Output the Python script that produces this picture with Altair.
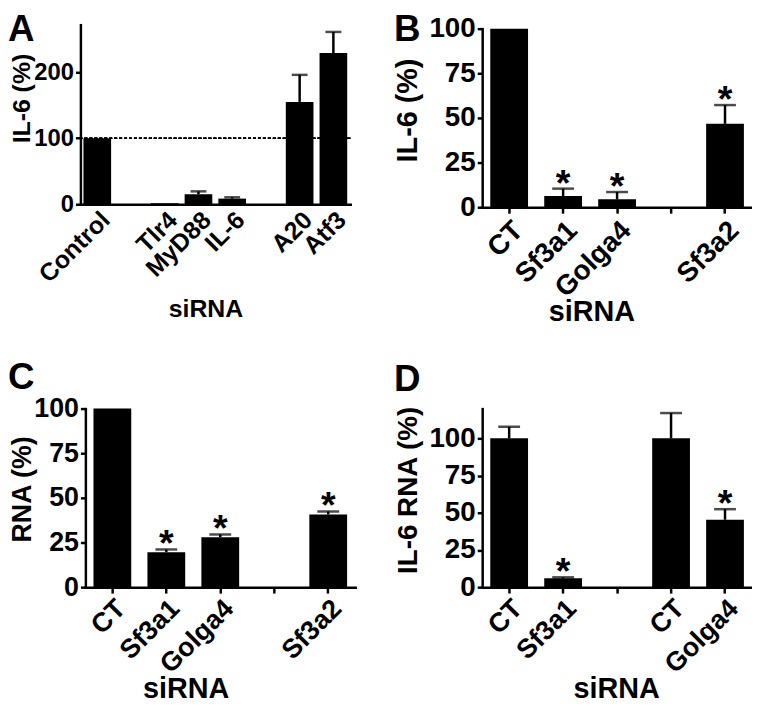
import json
import altair as alt
import pandas as pd

FONT = "Liberation Sans, Arial, Helvetica, sans-serif"

# ---------------- data ----------------
A_cats = ["Control", "", "Tlr4", "MyD88", "IL-6", "", "A20", "Atf3"]
A_vals = [100, None, 1.5, 15, 8.5, None, 155, 229]
A_err = [None, None, None, 19.5, 10.5, None, 196, 261]
A_star = [False, False, False, False, False, False, False, False]

B_cats = ["CT", "Sf3a1", "Golga4", "", "Sf3a2"]
B_vals = [100, 6.3, 4.4, None, 46.7]
B_err = [None, 10.4, 8.5, None, 57.2]
B_star = [False, True, True, False, True]

C_cats = ["CT", "Sf3a1", "Golga4", "", "Sf3a2"]
C_vals = [100, 19.6, 28.0, None, 40.7]
C_err = [None, 21.1, 29.5, None, 42.4]
C_star = [False, True, True, False, True]

D_cats = ["CT", "Sf3a1", "", "CT", "Golga4"]
D_vals = [100, 6.0, None, 100, 45.3]
D_err = [107.8, 6.6, None, 117, 52.4]
D_star = [False, True, False, False, True]


def panel(cats, vals, errs, stars, letter, ymax, yvals, ytitle, width, height,
          xrange=None, yrange=None, xoff=0, yoff=0, pi=0.3, po=0.15, cap=22,
          letter_xy=(0, 0), ytitle_xy=(0, 0), ytitle_size=27,
          xtitle_xy=(0, 0), xtitle_size=27, xlabel_size=26, ylabel_size=26,
          xlabel_pad=3, xticks=True, dashed=False):
    n = len(cats)
    df = pd.DataFrame({
        "idx": list(range(n)),
        "val": vals,
        "err": errs,
    })
    sdf = pd.DataFrame({
        "idx": [i for i in range(n) if stars[i]],
        "sy": [(errs[i] if errs[i] is not None else vals[i]) for i in range(n) if stars[i]],
        "s": ["*" for i in range(n) if stars[i]],
    })
    edf = df.dropna(subset=["err"])

    xs = dict(domain=list(range(n)), paddingInner=pi, paddingOuter=po)
    if xrange is not None:
        xs["range"] = xrange
    ys = dict(domain=[0, ymax], nice=False, zero=True)
    if yrange is not None:
        ys["range"] = yrange

    xaxis = alt.Axis(
        title="siRNA", labelExpr=json.dumps(cats) + "[datum.value]",
        labelAngle=-45, labelAlign="right", labelBaseline="top",
        labelFontSize=xlabel_size, labelFontWeight="bold", labelFont=FONT,
        labelPadding=xlabel_pad, ticks=xticks, tickSize=6,
        offset=xoff, titleX=xtitle_xy[0], titleY=xtitle_xy[1],
        titleBaseline="alphabetic", titleAlign="center", titleFontSize=xtitle_size,
        titleFontWeight="bold", titleFont=FONT,
    )
    yaxis = alt.Axis(
        title=ytitle, values=yvals, labelFontSize=ylabel_size, tickSize=5,
        labelFontWeight="bold", labelFont=FONT,
        labelPadding=2, offset=yoff, titleX=ytitle_xy[0], titleY=ytitle_xy[1],
        titleFontSize=ytitle_size, titleAngle=270, titleBaseline="bottom",
        titleAlign="center", titleFontWeight="bold", titleFont=FONT,
    )
    X = alt.X("idx:O", scale=alt.Scale(**xs), axis=xaxis)

    base = alt.Chart(df)
    bars = base.mark_bar(color="black").encode(
        x=X, y=alt.Y("val:Q", scale=alt.Scale(**ys), axis=yaxis))
    layers = []
    if dashed:
        layers.append(alt.Chart(df).mark_rule(color="black", strokeWidth=1, strokeDash=[3, 2]).encode(
            y=alt.datum(100)))
    layers.append(bars)
    if len(edf):
        layers.append(alt.Chart(edf).mark_rule(color="black", strokeWidth=2.5).encode(
            x=X, y=alt.Y("val:Q", scale=alt.Scale(**ys), axis=yaxis), y2="err:Q"))
        layers.append(alt.Chart(edf).mark_tick(color="black", thickness=2.5, size=cap).encode(
            x=X, y=alt.Y("err:Q", scale=alt.Scale(**ys), axis=yaxis)))
    if len(sdf):
        layers.append(alt.Chart(sdf).mark_text(
            color="black", font=FONT, fontWeight="bold", fontSize=38,
            baseline="alphabetic", dy=7).encode(
            x=X, y=alt.Y("sy:Q", scale=alt.Scale(**ys), axis=yaxis), text="s:N"))
    layers.append(alt.Chart(pd.DataFrame({"t": [letter]})).mark_text(
        color="black", font=FONT, fontWeight="bold", fontSize=37,
        align="left", baseline="top").encode(
        x=alt.value(letter_xy[0]), y=alt.value(letter_xy[1]), text="t:N"))
    return alt.layer(*layers).properties(width=width, height=height)


pA = panel(A_cats, A_vals, A_err, A_star, "A", 272, [0, 100, 200], "IL-6 (%)",
           272, 184, yrange=[181, 0], xoff=-3, pi=0.18, po=0.09, cap=16,
           letter_xy=(-73, -13), ytitle_xy=(-46, 74), ytitle_size=25,
           xtitle_xy=(126, 113), xtitle_size=25, xlabel_size=25, ylabel_size=24,
           xticks=False, dashed=True)
pB = panel(B_cats, B_vals, B_err, B_star, "B", 100, [0, 25, 50, 75, 100], "IL-6 (%)",
           272, 184, yrange=[184, 4], letter_xy=(-89, -13), ytitle_xy=(-60, 86),
           ytitle_size=29, xtitle_xy=(110, 114), xtitle_size=29,
           xlabel_size=28, ylabel_size=28)
pC = panel(C_cats, C_vals, C_err, C_star, "C", 100, [0, 25, 50, 75, 100], "RNA (%)",
           277, 180, xrange=[5, 277], yoff=-5, letter_xy=(-73, -49),
           ytitle_xy=(-49, 81), ytitle_size=27, xtitle_xy=(106, 111), xtitle_size=29,
           xlabel_size=27, ylabel_size=27, xlabel_pad=2)
pD = panel(D_cats, D_vals, D_err, D_star, "D", 120, [0, 25, 50, 75, 100], "IL-6 RNA (%)",
           272, 180, letter_xy=(-89, -47), ytitle_xy=(-60, 82), ytitle_size=28,
           xtitle_xy=(135, 111), xtitle_size=29, xlabel_size=27, ylabel_size=28,
           xlabel_pad=2)

chart = alt.ConcatChart(
    concat=[pA, pB, pC, pD], columns=2,
    spacing=alt.RowColnumber(row=203, column=128),
    bounds="flush", background="white", padding=0,
)
chart = chart.configure_view(stroke=None, strokeWidth=0).configure_axis(
    domainColor="black", domainWidth=2.5, tickColor="black", tickWidth=2.5,
    labelColor="black", titleColor="black", labelFont=FONT, titleFont=FONT,
    labelFontWeight="bold", titleFontWeight="bold", grid=False, domainCap="square",
)

chart.save("out.html", embed_options={"renderer": "svg", "actions": False})
